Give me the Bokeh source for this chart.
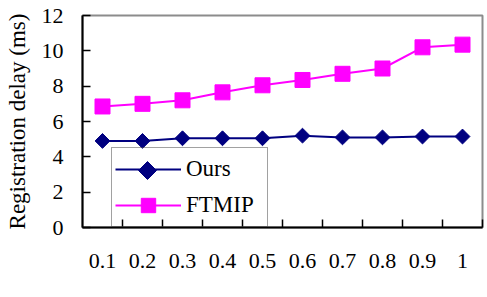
import math
from bokeh.plotting import figure
from bokeh.models import Range1d, FixedTicker, Legend, LegendItem, PolyAnnotation
from bokeh.embed import file_html
from bokeh.resources import INLINE

mobility = [0.1, 0.2, 0.3, 0.4, 0.5, 0.6, 0.7, 0.8, 0.9, 1.0]
tick_labels = ["0.1", "0.2", "0.3", "0.4", "0.5", "0.6", "0.7", "0.8", "0.9", "1"]
ours = [4.9, 4.9, 5.05, 5.05, 5.05, 5.2, 5.1, 5.1, 5.15, 5.15]
ftmip = [6.85, 7.0, 7.2, 7.65, 8.05, 8.35, 8.7, 9.0, 10.2, 10.35]
y_ticks = [0, 2, 4, 6, 8, 10, 12]

FONT = "Liberation Serif"

p = figure(width=487, height=297, output_backend="svg", toolbar_location=None,
           x_range=Range1d(0.05, 1.05), y_range=Range1d(0, 12),
           min_border_left=82, min_border_right=5, min_border_top=15, min_border_bottom=70)

p.xgrid.visible = False
p.ygrid.visible = False
p.outline_line_color = "#8c8c8c"
p.outline_line_width = 2
p.background_fill_color = "white"
p.border_fill_color = "white"

boundaries = [m + 0.05 for m in mobility]
p.xaxis.ticker = FixedTicker(ticks=mobility, minor_ticks=boundaries)
p.xaxis.major_label_overrides = {m: t for m, t in zip(mobility, tick_labels)}
p.xaxis.major_tick_line_color = None
p.xaxis.minor_tick_in = 8
p.xaxis.minor_tick_out = 0
p.xaxis.minor_tick_line_color = "black"
p.xaxis.minor_tick_line_width = 1.5
p.xaxis.major_label_standoff = 20
p.xaxis.axis_line_width = 2
p.xaxis.axis_line_color = "black"

p.yaxis.ticker = FixedTicker(ticks=y_ticks)
p.yaxis.major_tick_in = 8
p.yaxis.major_tick_out = 0
p.yaxis.major_tick_line_width = 1.5
p.yaxis.minor_tick_line_color = None
p.yaxis.major_label_standoff = 19
p.yaxis.axis_line_width = 2
p.yaxis.axis_line_color = "black"
p.yaxis.axis_label = "Registration delay (ms)"
p.yaxis.axis_label_standoff = 9
p.yaxis.axis_label_text_font = FONT
p.yaxis.axis_label_text_font_style = "normal"
p.yaxis.axis_label_text_font_size = "23px"
p.yaxis.axis_label_text_color = "black"

for ax in (p.xaxis, p.yaxis):
    ax.major_label_text_font = FONT
    ax.major_label_text_font_size = "22px"
    ax.major_label_text_color = "black"

navy = "#000080"
magenta = "#ff00ff"

l1 = p.line(mobility, ours, line_color=navy, line_width=2)
s1 = p.scatter(mobility, ours, marker="square", angle=math.pi / 4, size=10.5,
               fill_color=navy, line_color=navy)
l2 = p.line(mobility, ftmip, line_color=magenta, line_width=2)
s2 = p.scatter(mobility, ftmip, marker="square", size=15,
               fill_color=magenta, line_color=magenta)

# legend layout (screen pixels, relative to the frame's bottom-left corner)
leg_x, leg_y = 29, 0
leg_pad, glyph_w, entry_h, entry_gap = 3, 66, 36, 0

legend = Legend(items=[LegendItem(label="Ours", renderers=[l1]),
                       LegendItem(label="FTMIP", renderers=[l2, s2])],
                location=(leg_x, leg_y))
legend.padding = leg_pad
legend.margin = 0
legend.spacing = entry_gap
legend.glyph_width = glyph_w
legend.glyph_height = entry_h
legend.label_height = entry_h
legend.label_width = 78
legend.label_standoff = 5
legend.label_text_font = FONT
legend.label_text_font_size = "23px"
legend.label_text_color = "black"
legend.border_line_color = "#444444"
legend.border_line_width = 1.5
legend.background_fill_alpha = 0
p.add_layout(legend)

# diamond symbol for the "Ours" legend entry (drawn beneath the transparent legend)
leg_h = 2 * leg_pad + 2 * entry_h + entry_gap
cx = leg_x + leg_pad + glyph_w / 2
cy = leg_y + leg_h - leg_pad - entry_h / 2
r = 9
diamond = PolyAnnotation(xs=[cx, cx + r, cx, cx - r], ys=[cy + r, cy, cy - r, cy],
                         xs_units="screen", ys_units="screen",
                         fill_color=navy, fill_alpha=1, line_color=navy, line_alpha=1)
p.add_layout(diamond)

open("out.html", "w").write(file_html(p, INLINE))
